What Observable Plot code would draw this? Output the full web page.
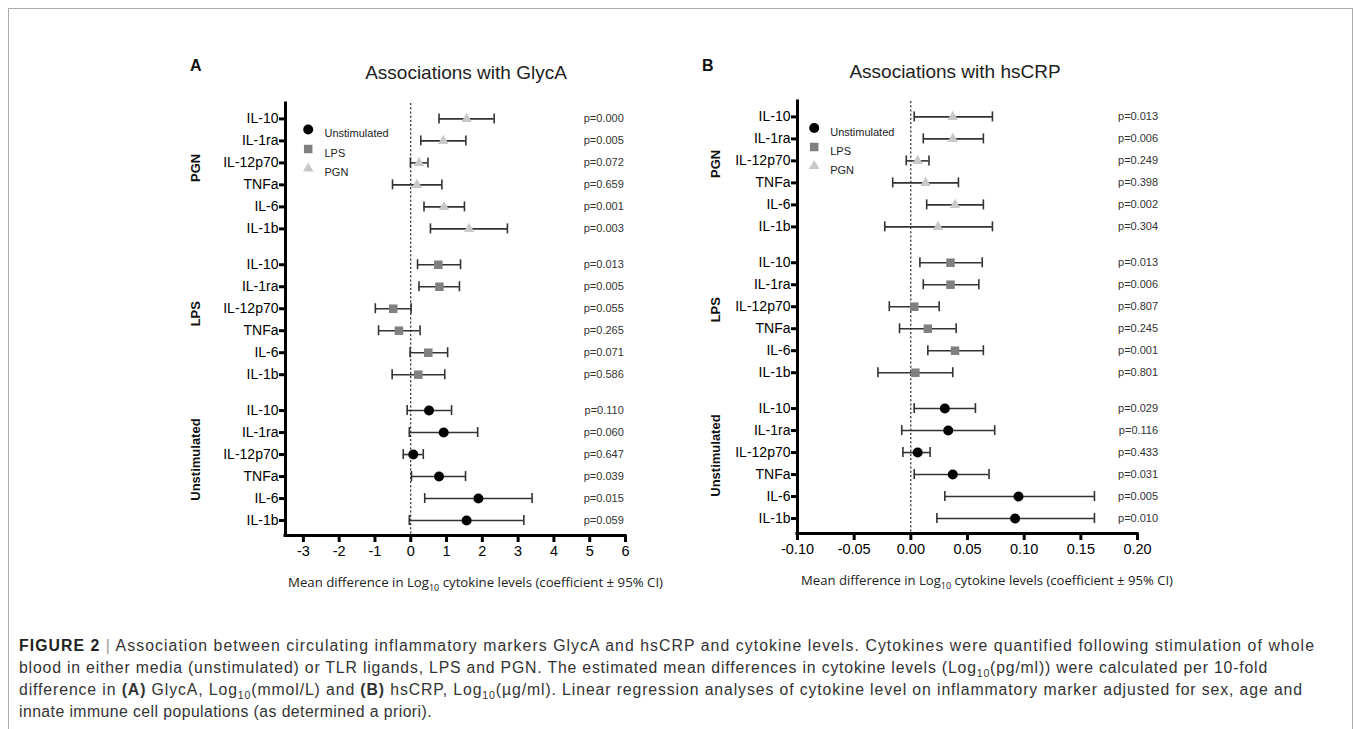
<!DOCTYPE html>
<html>
<head>
<meta charset="utf-8">
<script src="https://cdn.jsdelivr.net/npm/d3@7"></script>
<script src="https://cdn.jsdelivr.net/npm/@observablehq/plot@0.6"></script>
<style>
  html, body { margin: 0; padding: 0; background: #fff; }
  body { width: 1354px; height: 729px; overflow: hidden; position: relative;
         font-family: "Liberation Sans", Arial, Helvetica, sans-serif; }
  .abs { position: absolute; }
  #frame { left: 8px; top: 8px; width: 1345px; height: 800px; border: 1px solid #ababab; box-sizing: border-box; }
  .letter { font-weight: bold; font-size: 16px; line-height: 16px; color: #111; }
  .title { font-size: 19px; line-height: 20px; color: #222; white-space: nowrap; transform: translateX(-50%); }
  #caption { left: 19px; top: 635px; font-size: 15.8px; color: #333; }
  #caption div { white-space: nowrap; line-height: 22px; height: 22px; }
  #caption sub { font-size: 10.5px; line-height: 0; }
  .bar { color: #999; }
</style>
</head>
<body>
<div id="frame" class="abs"></div>
<div class="abs letter" style="left:190px; top:58px">A</div>
<div class="abs letter" style="left:702px; top:58px">B</div>
<div class="abs title" style="left:466px; top:63px">Associations with GlycA</div>
<div class="abs title" style="left:955px; top:62px">Associations with hsCRP</div>
<div id="panelA" class="abs" style="left:170px; top:90px"></div>
<div id="panelB" class="abs" style="left:690px; top:88px"></div>
<div id="caption" class="abs">
  <div><span class="capline"><b style="color:#222">FIGURE 2</b> <span class="bar">|</span> Association between circulating inflammatory markers GlycA and hsCRP and cytokine levels. Cytokines were quantified following stimulation of whole</span></div>
  <div><span class="capline">blood in either media (unstimulated) or TLR ligands, LPS and PGN. The estimated mean differences in cytokine levels (Log<sub>10</sub>(pg/ml)) were calculated per 10-fold</span></div>
  <div><span class="capline">difference in <b>(A)</b> GlycA, Log<sub>10</sub>(mmol/L) and <b>(B)</b> hsCRP, Log<sub>10</sub>(µg/ml). Linear regression analyses of cytokine level on inflammatory marker adjusted for sex, age and</span></div>
  <div><span class="capline">innate immune cell populations (as determined a priori).</span></div>
</div>
<script>
// ---------- Data ----------
const cytokines = ["IL-10", "IL-1ra", "IL-12p70", "TNFa", "IL-6", "IL-1b"];
const stimGroups = ["PGN", "LPS", "Unstimulated"];
const legendOrder = ["Unstimulated", "LPS", "PGN"];

// Panel A: associations with GlycA (order: PGN x6, LPS x6, Unstimulated x6)
const glycaCoef  = [1.56, 0.91, 0.23, 0.17, 0.93, 1.63,   0.77, 0.80, -0.49, -0.33, 0.49, 0.21,   0.51, 0.92, 0.07, 0.79, 1.89, 1.56];
const glycaLower = [0.79, 0.28, -0.01, -0.51, 0.37, 0.55, 0.19, 0.23, -0.99, -0.90, -0.02, -0.52, -0.10, -0.04, -0.21, 0.02, 0.39, -0.04];
const glycaUpper = [2.33, 1.54, 0.48, 0.87, 1.50, 2.70,   1.39, 1.36, 0.01, 0.26, 1.03, 0.95,     1.14, 1.87, 0.35, 1.53, 3.39, 3.16];
const glycaP     = ["0.000","0.005","0.072","0.659","0.001","0.003", "0.013","0.005","0.055","0.265","0.071","0.586", "0.110","0.060","0.647","0.039","0.015","0.059"];
const glycaTicks = [-3, -2, -1, 0, 1, 2, 3, 4, 5, 6];
const glycaDomain = [-3.5, 6];

// Panel B: associations with hsCRP
const hscrpCoef  = [0.037, 0.037, 0.006, 0.013, 0.039, 0.024,   0.035, 0.035, 0.003, 0.015, 0.039, 0.004,    0.030, 0.033, 0.006, 0.037, 0.095, 0.092];
const hscrpLower = [0.003, 0.011, -0.004, -0.016, 0.014, -0.023, 0.008, 0.011, -0.019, -0.010, 0.015, -0.029, 0.003, -0.008, -0.007, 0.003, 0.030, 0.023];
const hscrpUpper = [0.072, 0.064, 0.016, 0.042, 0.064, 0.072,   0.063, 0.060, 0.025, 0.040, 0.064, 0.037,    0.057, 0.074, 0.017, 0.069, 0.162, 0.162];
const hscrpP     = ["0.013","0.006","0.249","0.398","0.002","0.304", "0.013","0.006","0.807","0.245","0.001","0.801", "0.029","0.116","0.433","0.031","0.005","0.010"];
const hscrpTicks = [-0.10, -0.05, 0.00, 0.05, 0.10, 0.15, 0.20];
const hscrpDomain = [-0.1, 0.2];

// ---------- Layout constants ----------
const GROUP_GAP = 0.63;     // extra blank space between groups, in rows
const Y_PAD_TOP = 0.7, Y_PAD_BOTTOM = 0.68;
const groupColor = {domain: legendOrder, range: ["#000000", "#808080", "#c8c8c8"]};
const groupSymbol = {domain: legendOrder, range: ["circle", "square", "triangle"]};
const symbolR = {Unstimulated: 5, LPS: 4.8, PGN: 3.9};
const ink = "#333";

function buildRows(coef, lower, upper, pvals) {
  const n = cytokines.length;
  return coef.map((c, i) => {
    const g = Math.floor(i / n), r = i % n;
    return {group: stimGroups[g], cytokine: cytokines[r], pos: g * (n + GROUP_GAP) + r,
            coef: c, lo: lower[i], hi: upper[i], p: pvals[i]};
  });
}

function panel(opts) {
  const rows = buildRows(opts.coef, opts.lower, opts.upper, opts.pvals);
  const n = cytokines.length;
  const lastPos = d3.max(rows, d => d.pos);
  const yDomain = [-Y_PAD_TOP, lastPos + Y_PAD_BOTTOM];
  const nameByPos = new Map(rows.map(d => [d.pos, d.cytokine]));
  const groupCenters = stimGroups.map((g, i) => ({group: g, pos: i * (n + GROUP_GAP) + (n - 1) / 2}));

  const legendMarks = legendOrder.flatMap((k, i) => [
    Plot.dot([k], {frameAnchor: "top-left", dx: opts.legendDx, dy: opts.legendDy + i * opts.legendStep,
                   symbol: d => d, fill: d => d, r: symbolR[k]}),
    Plot.text([k], {frameAnchor: "top-left", dx: opts.legendTextDx, dy: opts.legendDy + i * opts.legendStep,
                    text: d => d, textAnchor: "start", fontSize: 11, fill: "#222"})
  ]);

  const plot = Plot.plot({
    width: opts.marginLeft + 340 + opts.marginRight,
    height: 510,
    marginLeft: opts.marginLeft,
    marginRight: opts.marginRight,
    marginTop: opts.marginTop,
    marginBottom: 510 - opts.marginTop - 432,
    style: {fontFamily: "'Liberation Sans', Arial, Helvetica, sans-serif", background: "transparent", overflow: "visible", color: "#000"},
    x: {domain: opts.xDomain},
    y: {domain: yDomain, reverse: true},
    color: groupColor,
    symbol: groupSymbol,
    marks: [
      Plot.ruleX([0], {strokeDasharray: "2.2,2", strokeWidth: 1, stroke: "#000"}),
      Plot.ruleY(rows, {y: "pos", x1: "lo", x2: "hi", stroke: ink, strokeWidth: 1.6}),
      Plot.ruleX(rows, {x: "lo", y1: "pos", y2: "pos", insetTop: -5, insetBottom: -5, stroke: ink, strokeWidth: 1.6}),
      Plot.ruleX(rows, {x: "hi", y1: "pos", y2: "pos", insetTop: -5, insetBottom: -5, stroke: ink, strokeWidth: 1.6}),
      ...legendOrder.map(k => Plot.dot(rows, {filter: d => d.group === k, x: "coef", y: "pos",
                                              symbol: "group", fill: "group", r: symbolR[k]})),
      Plot.text(rows, {y: "pos", text: d => "p=" + d.p, frameAnchor: "right", textAnchor: "end",
                       dx: opts.pDx, fontSize: 11, fill: ink}),
      Plot.text(groupCenters, {y: "pos", text: "group", frameAnchor: "left", textAnchor: "middle", rotate: -90,
                               dx: opts.groupDx, dy: opts.groupDy, fontWeight: "bold", fontSize: 13, fill: "#111"}),
      ...legendMarks,
      Plot.axisX(opts.xTicks, {tickFormat: opts.tickFormat, tickSize: 7, tickPadding: 3, strokeWidth: 3,
                               fontSize: 14.5, label: null}),
      Plot.axisY(rows.map(d => d.pos), {tickFormat: p => nameByPos.get(p), tickSize: 6, tickPadding: 1,
                                        strokeWidth: 3, fontSize: 14, label: null}),
      Plot.ruleX([opts.xDomain[0]], {strokeWidth: 3, stroke: "#000", strokeLinecap: "square"}),
      Plot.ruleY([yDomain[1]], {strokeWidth: 3, stroke: "#000", strokeLinecap: "square"})
    ]
  });

  // x-axis title with subscript
  const svg = d3.select(plot);
  const t = svg.append("text")
    .attr("x", opts.marginLeft + opts.labelDx)
    .attr("y", opts.marginTop + 432 + 52)
    .attr("text-anchor", "start")
    .attr("font-family", "'Open Sans', sans-serif")
    .attr("font-size", 12.5)
    .attr("fill", "#222")
    .attr("textLength", opts.labelLength)
    .attr("lengthAdjust", "spacingAndGlyphs");
  t.append("tspan").text("Mean difference in Log");
  t.append("tspan").attr("font-size", 8.5).attr("dy", 4).text("10");
  t.append("tspan").attr("dy", -4).text(" cytokine levels (coefficient \u00b1 95% CI)");
  return plot;
}

document.getElementById("panelA").append(panel({
  coef: glycaCoef, lower: glycaLower, upper: glycaUpper, pvals: glycaP,
  xDomain: glycaDomain, xTicks: glycaTicks, tickFormat: d => String(d),
  marginLeft: 115, marginRight: 60, marginTop: 13,
  pDx: -1.7, groupDx: -90, groupDy: -6,
  legendDx: 22.7, legendDy: 26, legendStep: 19.5, legendTextDx: 39,
  labelDx: 3, labelLength: 375
}));

document.getElementById("panelB").append(panel({
  coef: hscrpCoef, lower: hscrpLower, upper: hscrpUpper, pvals: hscrpP,
  xDomain: hscrpDomain, xTicks: hscrpTicks, tickFormat: d => d.toFixed(2),
  marginLeft: 107, marginRight: 60, marginTop: 13,
  pDx: 20.6, groupDx: -82, groupDy: -8,
  legendDx: 16.7, legendDy: 26.5, legendStep: 19, legendTextDx: 32.7,
  labelDx: 4, labelLength: 372
}));

// caption: fit each line to the width it has in the reference
(function fitCaption() {
  const lineEnds = [1315, 1268, 1303, 432];
  const left = 19;
  document.querySelectorAll("#caption .capline").forEach((el, i) => {
    const w = el.getBoundingClientRect().width;
    const chars = el.textContent.length;
    el.style.letterSpacing = ((lineEnds[i] - left - w) / chars) + "px";
  });
})();
</script>
</body>
</html>
